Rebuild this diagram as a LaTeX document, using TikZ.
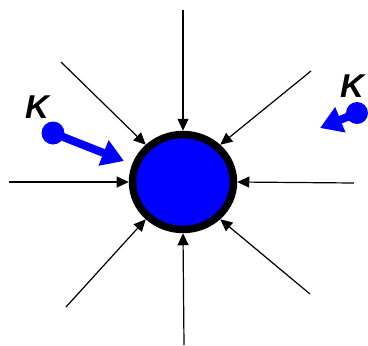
\documentclass[tikz,border=0pt]{standalone}
\usepackage{fontspec}
\setsansfont{Liberation Sans}
\usetikzlibrary{arrows.meta,shapes.geometric}
\tikzset{
  inflow/.style={line width=1.2pt,-{Triangle[length=12pt,width=11pt]}},
  kick/.style={blue,line width=8pt,-{Triangle[length=22pt,width=26pt]}},
  kball/.style={circle,fill=blue,inner sep=0pt,minimum size=23pt},
  klabel/.style={font=\sffamily\bfseries\itshape\fontsize{33}{33}\selectfont}
}
\begin{document}
\begin{tikzpicture}[x=1pt,y=-1pt]
  \useasboundingbox (0,0) rectangle (368,346);
  \node[ellipse,draw,fill=blue,line width=7.5pt,inner sep=0pt,minimum width=101pt,minimum height=95pt] (core) at (183,182) {};
  % inflowing lines
  \coordinate (n) at (183,10);   \coordinate (s) at (184,345);
  \coordinate (w) at (9,182);    \coordinate (e) at (354,183);
  \coordinate (nw) at (61,62);   \coordinate (ne) at (311,71);
  \coordinate (sw) at (66,307);  \coordinate (se) at (310,294);
  \draw[inflow] (n) -- (core.north);  \draw[inflow] (s) -- (core.south);
  \draw[inflow] (w) -- (core.west);   \draw[inflow] (e) -- (core.east);
  \draw[inflow] (nw) -- (core.135);   \draw[inflow] (ne) -- (core.45);
  \draw[inflow] (sw) -- (core.225);   \draw[inflow] (se) -- (core.315);
  % kaons
  \node[kball] (kl) at (53,133) {};
  \coordinate (kltip) at (124,161);
  \draw[kick] (kl.center) -- (kltip);
  \node[klabel] (klt) at (37,107) {K};
  \node[kball,minimum size=22pt] (kr) at (357,113) {};
  \coordinate (krtip) at (320,128);
  \draw[kick] (kr.center) -- (krtip);
  \node[klabel] (krt) at (352,86) {K};
\end{tikzpicture}
\end{document}
